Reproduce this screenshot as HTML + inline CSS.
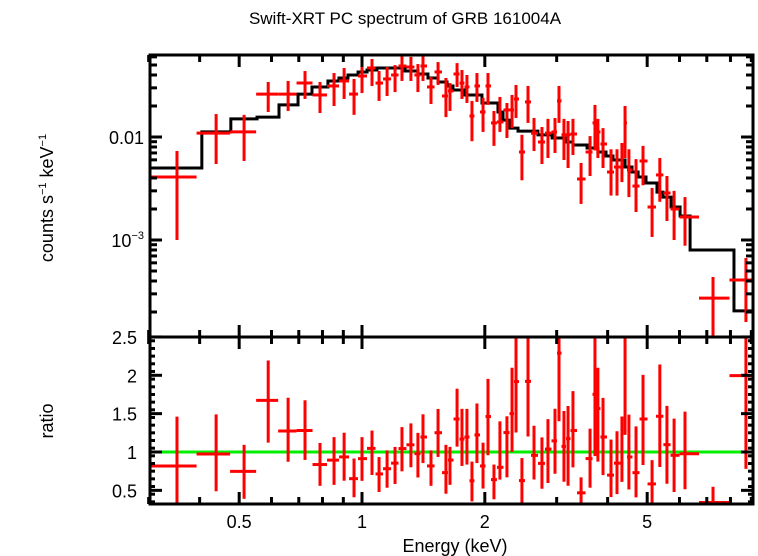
<!DOCTYPE html>
<html><head><meta charset="utf-8"><style>
html,body{margin:0;padding:0;background:#fff;}
svg{display:block;font-family:"Liberation Sans",sans-serif;}
</style></head><body>
<svg id="chart" width="758" height="556" viewBox="0 0 758 556" xmlns="http://www.w3.org/2000/svg">
<text x="405" y="24" font-size="17" text-anchor="middle">Swift-XRT PC spectrum of GRB 161004A</text>
<g id="gTop"></g>
<g id="gBot"></g>
<text transform="translate(53,198) rotate(-90)" font-size="18" text-anchor="middle">counts s<tspan font-size="11" dy="-7">−1</tspan><tspan dy="7"> keV</tspan><tspan font-size="11" dy="-7">−1</tspan></text>
<text transform="translate(53,421) rotate(-90)" font-size="18" text-anchor="middle">ratio</text>
<text x="455" y="552" font-size="18" text-anchor="middle">Energy (keV)</text>
</svg>
<script>
// data (keV, counts s^-1 keV^-1)
const energy=[0.352,0.439,0.514,0.589,0.659,0.725,0.789,0.854,0.904,0.956,1.0,1.058,1.101,1.152,1.205,1.253,1.318,1.371,1.411,1.476,1.536,1.606,1.643,1.710,1.758,1.808,1.860,1.913,1.980,2.036,2.106,2.178,2.266,2.332,2.385,2.466,2.552,2.640,2.761,2.856,2.972,3.04,3.126,3.199,3.289,3.443,3.622,3.724,3.786,3.897,4.077,4.217,4.336,4.413,4.51,4.695,4.884,5.14,5.37,5.59,5.82,6.19,7.25,8.73];
const flux=[0.409,1.09,1.12,2.61,2.61,3.34,2.56,3.13,3.50,2.61,3.91,4.68,3.34,3.66,4.00,4.89,4.78,4.00,4.89,3.06,4.28,2.50,2.80,4.09,3.34,3.06,1.60,3.13,1.75,3.13,1.37,1.40,1.83,1.83,2.34,0.715,2.19,1.09,0.894,1.09,1.12,2.24,1.05,1.05,1.07,0.391,0.715,1.37,1.12,0.855,0.457,0.511,0.511,1.37,0.478,0.334,0.585,0.209,0.428,0.286,0.200,0.167,0.0273,0.0409].map(v=>v*0.01);
const fluxHi=[0.731,1.67,1.64,3.42,3.50,4.37,3.42,4.18,4.68,3.66,5.11,5.72,4.37,4.78,4.99,6.2,6.0,5.11,6.1,3.82,5.34,3.74,3.34,5.22,4.47,4.00,2.24,4.18,2.40,4.18,1.79,2.45,2.14,2.56,3.20,1.05,3.13,1.53,1.25,1.50,1.53,3.13,1.50,1.43,1.50,0.56,1.02,2.05,1.50,1.22,0.76,0.76,0.875,2.00,0.76,0.61,0.82,0.32,0.625,0.418,0.30,0.261,0.0437,0.0668].map(v=>v*0.01);
const fluxLo=[0.100,0.547,0.585,1.75,1.79,2.34,1.71,2.00,2.34,1.64,2.67,3.13,2.24,2.50,2.73,3.50,3.50,2.73,3.50,2.09,3.20,1.56,1.79,3.06,2.34,2.14,0.91,2.19,1.12,2.05,0.82,1.12,0.978,1.22,1.53,0.38,1.37,0.731,0.547,0.625,0.70,1.37,0.598,0.50,0.669,0.224,0.418,0.74,0.625,0.50,0.27,0.27,0.365,0.625,0.261,0.187,0.34,0.107,0.235,0.153,0.100,0.088,0.009,0.016].map(v=>v*0.01);
// model step function: edges (keV) and values
const modelEdges=[0.299,0.405,0.477,0.553,0.626,0.697,0.754,0.825,0.878,0.924,0.978,1.029,1.088,1.275,1.371,1.451,1.536,1.616,1.671,1.788,1.968,2.154,2.216,2.305,2.412,2.699,2.923,3.145,3.289,3.561,3.786,3.963,4.122,4.413,4.59,4.75,4.967,5.284,5.467,5.72,6.02,6.37,8.16,9.3];
const modelVals=[0.500,1.12,1.50,1.56,2.05,2.61,3.06,3.50,3.74,4.00,4.28,4.47,4.68,4.37,4.09,3.74,3.42,3.13,2.86,2.56,2.14,1.75,1.46,1.22,1.14,1.05,0.978,0.894,0.836,0.782,0.715,0.654,0.598,0.511,0.457,0.409,0.358,0.292,0.261,0.209,0.171,0.080,0.0205].map(v=>v*0.01);
const xTicksMajor=[0.5,1,2,5];
const xTicksMinor=[0.3,0.4,0.6,0.7,0.8,0.9,3,4,6,7,8,9];
const ratioTicks=[0.5,1,1.5,2,2.5];

const NS="http://www.w3.org/2000/svg";
const L=150,R=753,T1=55,B1=337,B2=504;
const xs=e=>362+408*Math.log10(e);
const ys=f=>137-103*(Math.log10(f)+2);
const yr=r=>452-(r-1)*76.7;
function mk(parent,tag,attrs){const el=document.createElementNS(NS,tag);for(const k in attrs)el.setAttribute(k,attrs[k]);parent.appendChild(el);return el;}
const gT=document.getElementById('gTop'),gB=document.getElementById('gBot');
const cy=(v,lo,hi)=>Math.max(lo,Math.min(hi,v));
const defs=mk(document.getElementById('chart'),'defs',{});
const c1=mk(defs,'clipPath',{id:'c1'});mk(c1,'rect',{x:L,y:T1,width:R-L,height:B1-T1});
const c2=mk(defs,'clipPath',{id:'c2'});mk(c2,'rect',{x:L,y:B1,width:R-L,height:B2-B1});
const d1=mk(gT,'g',{'clip-path':'url(#c1)'});
const d2=mk(gB,'g',{'clip-path':'url(#c2)'});
let p='';
for(let i=0;i<modelVals.length;i++){const x0=xs(modelEdges[i]),x1=xs(modelEdges[i+1]),y=ys(modelVals[i]);p+=(i?'L':'M')+x0+' '+y+'L'+x1+' '+y;}
const ml=mk(d1,'path',{d:p,fill:'none',stroke:'#000','stroke-width':3});


function modelAt(e){for(let i=0;i<modelVals.length;i++){if(e<modelEdges[i+1])return modelVals[i];}return modelVals[modelVals.length-1];}
const gl=mk(d2,'line',{x1:L,x2:R,y1:yr(1),y2:yr(1),stroke:'#00ee00','stroke-width':3});


for(let i=0;i<energy.length;i++){
  const e=energy[i];
  const elo=i===0?0.299:Math.sqrt(energy[i-1]*e);
  const ehi=i===energy.length-1?9.3:Math.sqrt(energy[i+1]*e);
  const g=mk(d1,'g',{stroke:'#ff0000','stroke-width':3});
  
  
  mk(g,'line',{x1:xs(elo),x2:xs(ehi),y1:ys(flux[i]),y2:ys(flux[i])});
  mk(g,'line',{x1:xs(e),x2:xs(e),y1:ys(fluxHi[i]),y2:cy(ys(fluxLo[i]),0,400)});
  const m=modelAt(e);
  const g2=mk(d2,'g',{stroke:'#ff0000','stroke-width':3});
  
  
  mk(g2,'line',{x1:xs(elo),x2:xs(ehi),y1:yr(flux[i]/m),y2:yr(flux[i]/m)});
  mk(g2,'line',{x1:xs(e),x2:xs(e),y1:yr(fluxHi[i]/m),y2:yr(fluxLo[i]/m)});
}
function frame(g,y0,y1,name){const r=mk(g,'rect',{x:L,y:y0,width:R-L,height:y1-y0,fill:'none',stroke:'#000','stroke-width':3});}
frame(gT,T1,B1,'spectrum-frame');frame(gB,B1,B2,'ratio-frame');
function xt(e,len){const x=xs(e);[[gT,T1,1],[gT,B1,-1],[gB,B1,1],[gB,B2,-1]].forEach(([g,y,s])=>mk(g,'line',{x1:x,x2:x,y1:y,y2:y+s*len,stroke:'#000','stroke-width':3}));}
xTicksMajor.forEach(e=>xt(e,12));xTicksMinor.forEach(e=>xt(e,7));
xTicksMajor.forEach(e=>{const t=mk(gB,'text',{x:xs(e),y:528,'font-size':18,'text-anchor':'middle'});t.textContent=String(e);});
function yt(g,y,len){mk(g,'line',{x1:L,x2:L+len,y1:y,y2:y,stroke:'#000','stroke-width':3});mk(g,'line',{x1:R,x2:R-len,y1:y,y2:y,stroke:'#000','stroke-width':3});}
for(let dec=-4;dec<=-2;dec++){for(let k=1;k<=9;k++){const v=k*Math.pow(10,dec);const y=ys(v);if(y<T1||y>B1)continue;yt(gT,y,k===1?12:7);}}
const l1=mk(gT,'text',{x:144,y:ys(0.01)+7,'font-size':18,'text-anchor':'end'});l1.textContent='0.01';
const l2=mk(gT,'text',{x:144,y:ys(0.001)+7,'font-size':18,'text-anchor':'end'});l2.innerHTML='10<tspan font-size="11" dy="-8">−3</tspan>';
for(let r=0.35;r<2.52;r+=0.1){const y=yr(r);yt(gB,y,5);}
ratioTicks.forEach(r=>{yt(gB,yr(r),12);const t=mk(gB,'text',{x:137,y:yr(r)+7,'font-size':18,'text-anchor':'end'});t.textContent=String(r);});
</script>
</body></html>
